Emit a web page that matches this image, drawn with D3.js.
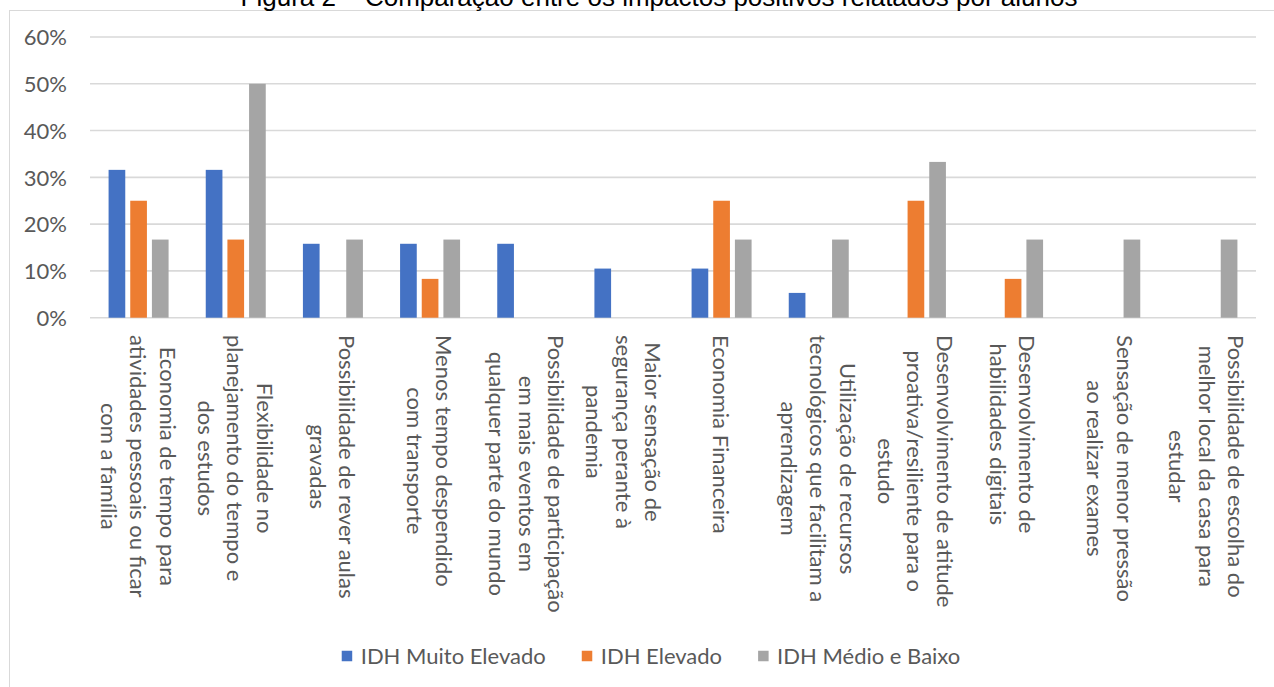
<!DOCTYPE html>
<html lang="pt">
<head>
<meta charset="utf-8">
<script src="https://cdn.jsdelivr.net/npm/d3@7"></script>
<style>
  html, body { margin: 0; padding: 0; background: #fff; }
  svg { display: block; }
</style>
</head>
<body>
<svg id="chart" width="1274" height="687"></svg>
<script>
// Categorias (rótulos do eixo X, já quebrados em linhas)
const categoryLines = [
  ["Economia de tempo para", "atividades pessoais ou ficar", "com a família"],
  ["Flexibilidade no", "planejamento do tempo e", "dos estudos"],
  ["Possibilidade de rever aulas", "gravadas"],
  ["Menos tempo despendido", "com transporte"],
  ["Possibilidade de participação", "em mais eventos em", "qualquer parte do mundo"],
  ["Maior sensação de", "segurança perante à", "pandemia"],
  ["Economia Financeira"],
  ["Utilização de recursos", "tecnológicos que facilitam a", "aprendizagem"],
  ["Desenvolvimento de atitude", "proativa/resiliente para o", "estudo"],
  ["Desenvolvimento de", "habilidades digitais"],
  ["Sensação de menor pressão", "ao realizar exames"],
  ["Possibilidade de escolha do", "melhor local da casa para", "estudar"]
];

// Séries (percentual de alunos)
const seriesNames = ["IDH Muito Elevado", "IDH Elevado", "IDH Médio e Baixo"];
const idhMuitoElevado = [31.6, 31.6, 15.8, 15.8, 15.8, 10.5, 10.5, 5.3, 0, 0, 0, 0];
const idhElevado      = [25.0, 16.7, 0, 8.3, 0, 0, 25.0, 0, 25.0, 8.3, 0, 0];
const idhMedioBaixo   = [16.7, 50.0, 16.7, 16.7, 0, 0, 16.7, 16.7, 33.3, 16.7, 16.7, 16.7];
const seriesColors = ["#4472C4", "#ED7D31", "#A5A5A5"];

// Marcas do eixo Y
const yTicks = [0, 10, 20, 30, 40, 50, 60];

const titleText = "Figura 2 – Comparação entre os impactos positivos relatados por alunos";

const svg = d3.select("#chart");
const W = 1274, H = 687;
const FONT = "Lato, 'Noto Sans', sans-serif";
const FS = 22;
const TEXT = "#595959";

svg.append("rect").attr("width", W).attr("height", H).attr("fill", "#fff");

// Moldura da área do gráfico
svg.append("rect")
  .attr("x", 9.5).attr("y", 10.5)
  .attr("width", 1400).attr("height", 800)
  .attr("fill", "none").attr("stroke", "#d9d9d9").attr("stroke-width", 1);

// Título (parcialmente acima da borda superior)
svg.append("text")
  .attr("x", 659).attr("y", 6)
  .attr("text-anchor", "middle")
  .attr("font-family", "'Liberation Sans', Arial, sans-serif")
  .attr("font-size", 26)
  .attr("fill", "#000")
  .text(titleText);

const plot = { left: 90, right: 1256, top: 37, bottom: 317.7 };

const x0 = d3.scaleBand()
  .domain(d3.range(categoryLines.length))
  .range([plot.left, plot.right])
  .paddingInner(0.3825)
  .paddingOuter(0.3825 / 2);

const x1 = d3.scaleBand()
  .domain(d3.range(seriesNames.length))
  .range([0, x0.bandwidth()])
  .paddingInner(0.23);

const y = d3.scaleLinear().domain([0, 60]).range([plot.bottom, plot.top]);

// Linhas de grade
svg.append("g")
  .selectAll("line")
  .data(yTicks)
  .join("line")
  .attr("x1", plot.left).attr("x2", plot.right)
  .attr("y1", d => y(d)).attr("y2", d => y(d))
  .attr("stroke", "#d9d9d9").attr("stroke-width", 1.6);

// Eixo Y (apenas rótulos)
const yAxis = d3.axisLeft(y)
  .tickValues(yTicks)
  .tickFormat(d => d + "%")
  .tickSize(0)
  .tickPadding(0);

const yg = svg.append("g")
  .attr("transform", `translate(67,0)`)
  .call(yAxis);
yg.select(".domain").remove();
yg.selectAll("text")
  .attr("font-family", FONT)
  .attr("font-size", FS)
  .attr("fill", TEXT)
  .attr("dy", "0.35em");

// Barras
const seriesValues = [idhMuitoElevado, idhElevado, idhMedioBaixo];
const groups = svg.append("g")
  .selectAll("g")
  .data(categoryLines.map((_, i) => i))
  .join("g")
  .attr("transform", i => `translate(${x0(i)},0)`);

groups.selectAll("rect")
  .data(i => seriesValues.map((vals, s) => ({ s, v: vals[i] })).filter(d => d.v > 0))
  .join("rect")
  .attr("x", d => x1(d.s))
  .attr("width", x1.bandwidth())
  .attr("y", d => y(d.v))
  .attr("height", d => y(0) - y(d.v))
  .attr("fill", d => seriesColors[d.s]);

// Rótulos das categorias (rotacionados 90°)
const LINE_GAP = 29.5;
const LABEL_TOP = 335;
categoryLines.forEach((lines, i) => {
  const cx = x0(i) + x0.bandwidth() / 2;
  const g = svg.append("g");
  const texts = lines.map((line, k) =>
    g.append("text")
      .attr("font-family", FONT)
      .attr("font-size", FS)
      .attr("fill", TEXT)
      .attr("text-anchor", "middle")
      .attr("dominant-baseline", "central")
      .attr("x", 0)
      .attr("y", (k - (lines.length - 1) / 2) * LINE_GAP)
      .text(line)
  );
  const maxLen = d3.max(texts, t => t.node().getComputedTextLength());
  g.attr("transform", `translate(${cx},${LABEL_TOP + maxLen / 2}) rotate(90)`);
});

// Legenda
const legend = svg.append("g");
const items = seriesNames.map((name, s) => {
  const g = legend.append("g");
  g.append("rect")
    .attr("width", 10.5).attr("height", 10.5)
    .attr("y", -5.25)
    .attr("fill", seriesColors[s]);
  const t = g.append("text")
    .attr("x", 19)
    .attr("dy", "0.35em")
    .attr("font-family", FONT)
    .attr("font-size", FS)
    .attr("fill", TEXT)
    .text(name);
  return { g, w: 19 + t.node().getComputedTextLength() };
});
const ITEM_GAP = 36;
const totalW = d3.sum(items, d => d.w) + ITEM_GAP * (items.length - 1);
let lx = 651 - totalW / 2;
items.forEach(it => {
  it.g.attr("transform", `translate(${lx},656)`);
  lx += it.w + ITEM_GAP;
});
</script>
</body>
</html>
